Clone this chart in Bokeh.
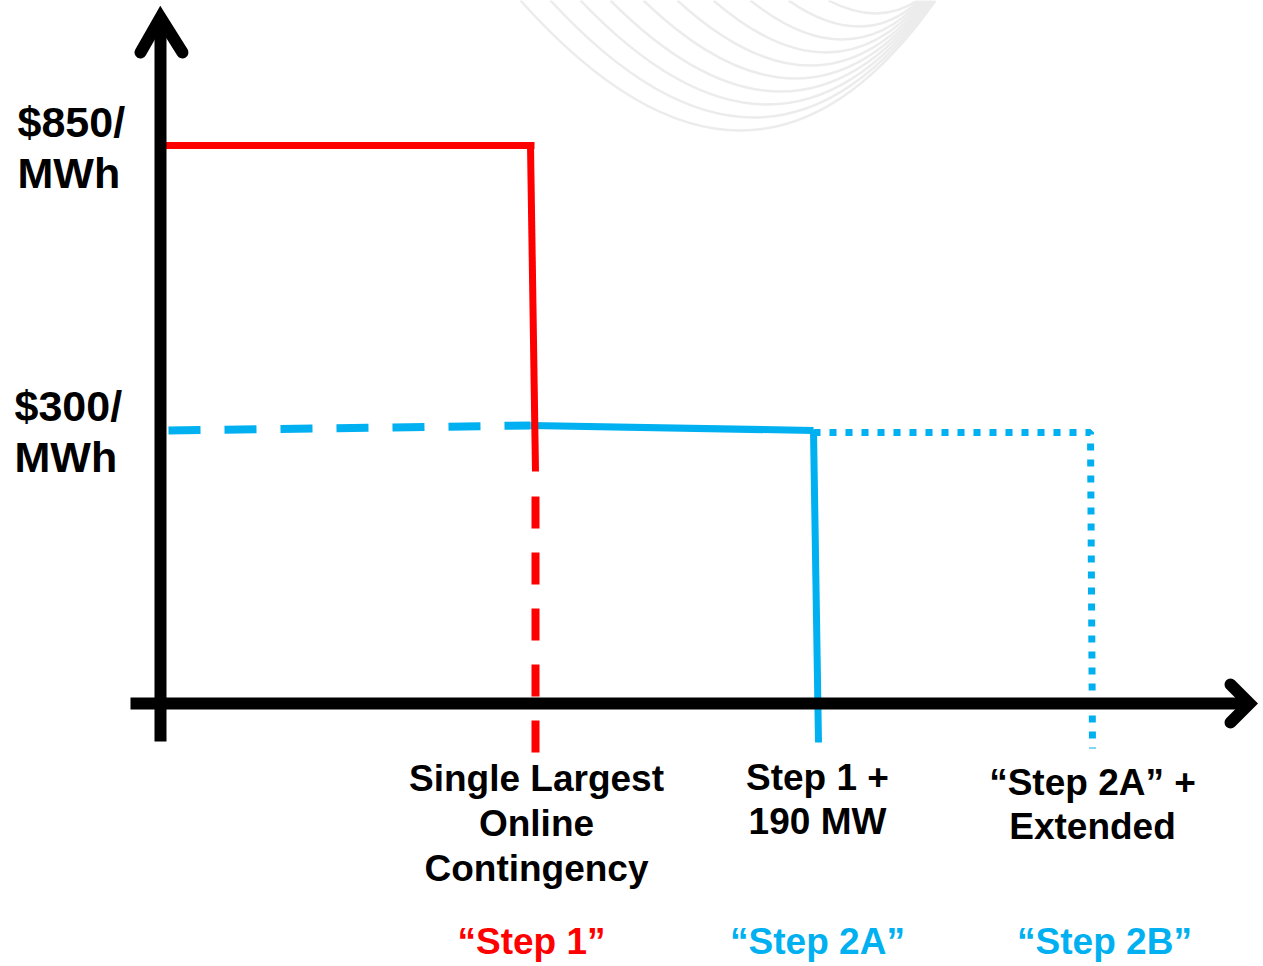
from bokeh.plotting import figure
from bokeh.models import Range1d
from bokeh.core.properties import value
from bokeh.embed import file_html
from bokeh.resources import INLINE

# ---- schematic data (diagram units: x = quantity position, y = price position) ----
# "Step 1" curve (red): $850/MWh up to the single largest online contingency
red_x = [0, 374]
red_y = [558, 558]
red_drop_x = [370, 375]
red_drop_y = [558, 232]
red_ext_x = [375, 375]
red_ext_y = [207, -49]

# "Step 2A" curve (blue): $300/MWh up to Step 1 + 190 MW
blue_dash_x = [8, 370]
blue_dash_y = [273, 278]
blue_x = [370, 653]
blue_y = [278, 273]
blue_drop_x = [653, 658]
blue_drop_y = [273, -39]

# "Step 2B" curve (blue dotted): extended
blue_dot_x = [653, 930, 930, 932]
blue_dot_y = [271, 271, 271, -45]

# price tick labels
price_lines_top = ["$850/", "MWh"]
price_lines_low = ["$300/", "MWh"]
price_top_y = [582, 531]
price_low_y = [298, 247]

# step labels
step_q = [376, 657, 932]
step_text_1 = ["Single Largest", "Online", "Contingency"]
step_text_2 = ["Step 1 +", "190 MW"]
step_text_3 = ["\u201cStep 2A\u201d +", "Extended"]
step_names = ["\u201cStep 1\u201d", "\u201cStep 2A\u201d", "\u201cStep 2B\u201d"]
step_name_x = [371, 657, 944]
step_name_colors = ["#FF0000", "#00B0F0", "#00B0F0"]

# decorative background arcs (slide template)
arc_x0 = [360, 390, 420, 450, 483, 517, 553, 590, 628, 668]
arc_x1 = [775, 773, 771, 769, 767, 765, 763, 761, 759, 757]
arc_cx = [592, 605, 618, 631, 645, 659, 673, 688, 703, 718]
arc_cy = [443, 469, 495, 521, 547, 573, 599, 625, 651, 677]
arc_y0 = [703] * 10
arc_y1 = [703] * 10

RED = "#FF0000"
BLUE = "#00B0F0"
FONT = value("Liberation Sans")

p = figure(width=1263, height=966,
           x_range=Range1d(-160, 1103), y_range=Range1d(-263, 703),
           output_backend="svg", toolbar_location=None, min_border=0,
           x_axis_type=None, y_axis_type=None)
p.grid.visible = False
p.outline_line_color = None
p.background_fill_color = "white"

# background arcs
p.quadratic(x0=arc_x0, y0=arc_y0, x1=arc_x1, y1=arc_y1, cx=arc_cx, cy=arc_cy,
            line_color="#ececec", line_width=2.5)

# blue curves
p.line(blue_dash_x, blue_dash_y, line_color=BLUE, line_width=8, line_dash="32 24")
p.line(blue_dot_x, blue_dot_y, line_color=BLUE, line_width=7, line_dash="7 9")
p.line(blue_x, blue_y, line_color=BLUE, line_width=7)
p.line(blue_drop_x, blue_drop_y, line_color=BLUE, line_width=7)

# red curve
p.line(red_x, red_y, line_color=RED, line_width=7)
p.line(red_drop_x, red_drop_y, line_color=RED, line_width=7)
p.line(red_ext_x, red_ext_y, line_color=RED, line_width=8, line_dash="32 24")

# axes as arrows
p.line([0, 0], [-38, 684], line_color="black", line_width=12)
p.line([-20, 0, 22], [651, 686, 651], line_color="black", line_width=12,
       line_join="miter", line_cap="round")
p.line([-30, 1088], [0, 0], line_color="black", line_width=12)
p.line([1070, 1089, 1070], [19, 0, -19], line_color="black", line_width=12,
       line_join="miter", line_cap="round")

# price labels
p.text(x=[-143, -143], y=price_top_y, text=price_lines_top, text_font=FONT,
       text_font_style="bold", text_font_size="43px", text_color="black",
       text_align="left", text_baseline="alphabetic")
p.text(x=[-146, -146], y=price_low_y, text=price_lines_low, text_font=FONT,
       text_font_style="bold", text_font_size="43px", text_color="black",
       text_align="left", text_baseline="alphabetic")

# step labels
p.text(x=[step_q[0]] * 3, y=[-75, -120, -165], text=step_text_1, text_font=FONT,
       text_font_style="bold", text_font_size="37px", text_color="black",
       text_align="center", text_baseline="alphabetic")
p.text(x=[step_q[1]] * 2, y=[-74, -118], text=step_text_2, text_font=FONT,
       text_font_style="bold", text_font_size="37px", text_color="black",
       text_align="center", text_baseline="alphabetic")
p.text(x=[step_q[2]] * 2, y=[-79, -123], text=step_text_3, text_font=FONT,
       text_font_style="bold", text_font_size="37px", text_color="black",
       text_align="center", text_baseline="alphabetic")
p.text(x=step_name_x, y=[-238, -238, -238], text=step_names, text_font=FONT,
       text_font_style="bold", text_font_size="37px", text_color=step_name_colors,
       text_align="center", text_baseline="alphabetic")

open("out.html", "w").write(file_html(p, INLINE))
